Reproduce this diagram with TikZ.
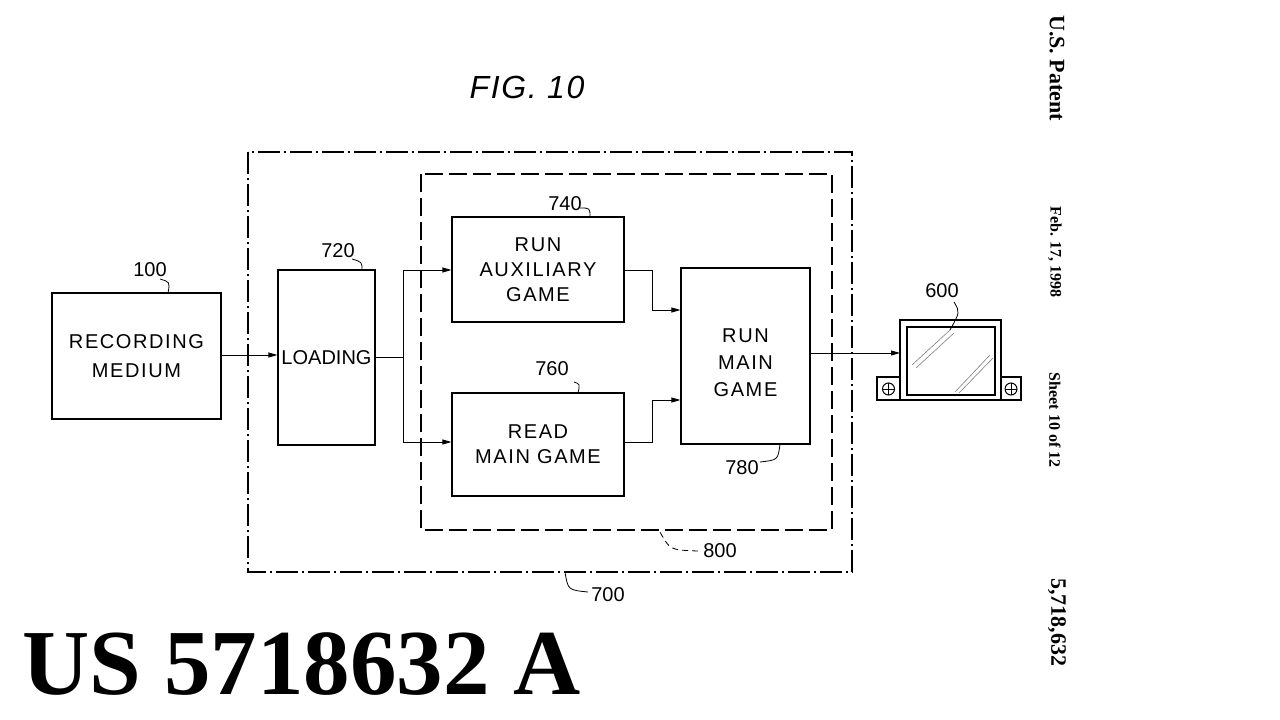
\documentclass[tikz,border=0pt]{standalone}
\usepackage{fontspec}
\setmainfont{Liberation Sans}
\newfontfamily\seriff{Liberation Serif}
\usetikzlibrary{arrows.meta}
\begin{document}
\begin{tikzpicture}[x=1pt,y=-1pt,
  boxfont/.style={font=\fontsize{20}{25}\selectfont\addfontfeatures{LetterSpace=8}},
  box/.style={draw,line width=1.2pt,inner sep=0pt,align=center,boxfont},
  arr/.style={line width=0.8pt,-{Triangle[length=9pt,width=5pt]}},
  ln/.style={line width=0.8pt},
  lab/.style={font=\fontsize{20}{22}\selectfont}]
\useasboundingbox (0,0) rectangle (1280,720);
\fill[white] (0,0) rectangle (1280,720);
% containers
\draw[line width=1.1pt,dash pattern=on 22pt off 4pt on 2pt off 4pt] (248,152) rectangle (852,572);
\draw[line width=1.1pt,dash pattern=on 18pt off 6pt] (421,174) rectangle (832,530);
% boxes
\node[box,minimum width=169pt,minimum height=126pt] (rm) at (136.5,356) {RECORDING\\[4pt]MEDIUM};
\node[box,minimum width=97pt,minimum height=175pt] (ld) at (326.5,357.5) {\addfontfeatures{LetterSpace=0}LOADING};
\node[box,minimum width=172pt,minimum height=105pt] (aux) at (538,269.5) {RUN\\AUXILIARY\\GAME};
\node[box,minimum width=172pt,minimum height=103pt] (rd) at (538,444.5) {READ\\MAIN GAME};
\node[box,minimum width=129pt,minimum height=176pt,
  label={[align=center,boxfont,yshift=-7pt]center:{RUN\\[2pt]MAIN\\[2pt]GAME}}] (mg) at (745.5,356) {};
% monitor
\draw[line width=1.3pt] (900,320) rectangle (1001,400);
\draw[line width=2pt,fill=white] (907,327) rectangle (995,395);
\draw[line width=1.2pt] (877,377) rectangle (900,400);
\draw[line width=1.2pt] (1001,377) rectangle (1021,400);
\node[draw,circle,minimum size=12pt,inner sep=0pt,line width=1pt,
  path picture={\draw[line width=0.4pt] (path picture bounding box.north) -- (path picture bounding box.south) (path picture bounding box.west) -- (path picture bounding box.east);}] (spl) at (888.5,389) {};
\node[draw,circle,minimum size=12pt,inner sep=0pt,line width=1pt,
  path picture={\draw[line width=0.4pt] (path picture bounding box.north) -- (path picture bounding box.south) (path picture bounding box.west) -- (path picture bounding box.east);}] (spr) at (1011,389) {};
\draw[gray,line width=0.6pt] (912,365) -- (950,330) (916,368) -- (954,333) (955,392) -- (990,355) (959,393) -- (993,358);
\coordinate (mon) at (900,353);
% connectors
\coordinate (sp) at (403,357);
\draw[arr] (rm.east |- 0,355) -- (ld.west |- 0,355);
\draw[ln] (ld.east |- sp) -- (sp);
\draw[arr] (sp) |- (aux.west |- 0,270);
\draw[arr] (sp) |- (rd.west |- 0,442);
\draw[arr] (aux.east |- 0,270) -- (652,270) |- (mg.west |- 0,310);
\draw[arr] (rd.east |- 0,442) -- (652,442) |- (mg.west |- 0,400);
\draw[arr] (mg.east |- mon) -- (mon);
% labels
\node[lab] (l100) at (150,270) {100};
\draw[ln] (160,279) .. controls (170,282) .. (168,293);
\node[lab] (l720) at (338,251) {720};
\draw[ln] (352,259) .. controls (362,262) .. (362,270);
\node[lab] (l740) at (565,204) {740};
\draw[ln] (580,208) .. controls (590,208) .. (590,217);
\node[lab] (l760) at (552,369) {760};
\draw[ln] (574,382) .. controls (580,384) .. (578,393);
\node[lab] (l780) at (742,468) {780};
\draw[ln] (760,462) .. controls (778,460) .. (780,444);
\node[lab] (l800) at (720,551) {800};
\draw[ln,dash pattern=on 6pt off 4pt] (698,551) .. controls (670,550) .. (660,532);
\node[lab] (l700) at (608,595) {700};
\draw[ln] (588,592) .. controls (568,590) .. (565,572);
\node[lab] (l600) at (942,291) {600};
\draw[ln] (954,302) .. controls (960,312) .. (950,330);
\node[font=\fontsize{32}{34}\selectfont\itshape\addfontfeatures{LetterSpace=5}] (fig) at (527,87) {FIG. 10};
% patent texts
\node[font=\seriff\bfseries\fontsize{22}{24}\selectfont,rotate=-90] (p1) at (1057,68) {U.S. Patent};
\node[font=\seriff\bfseries\fontsize{16}{18}\selectfont,rotate=-90] (p2) at (1055,252) {Feb. 17, 1998};
\node[font=\seriff\bfseries\fontsize{16}{18}\selectfont,rotate=-90] (p3) at (1055,420) {Sheet 10 of 12};
\node[font=\seriff\bfseries\fontsize{22}{24}\selectfont,rotate=-90] (p4) at (1057,622) {5,718,632};
\node[font=\seriff\bfseries\fontsize{93}{95}\selectfont,anchor=west,inner sep=0pt] (us) at (22,664) {US 5718632 A};
\end{tikzpicture}
\end{document}
